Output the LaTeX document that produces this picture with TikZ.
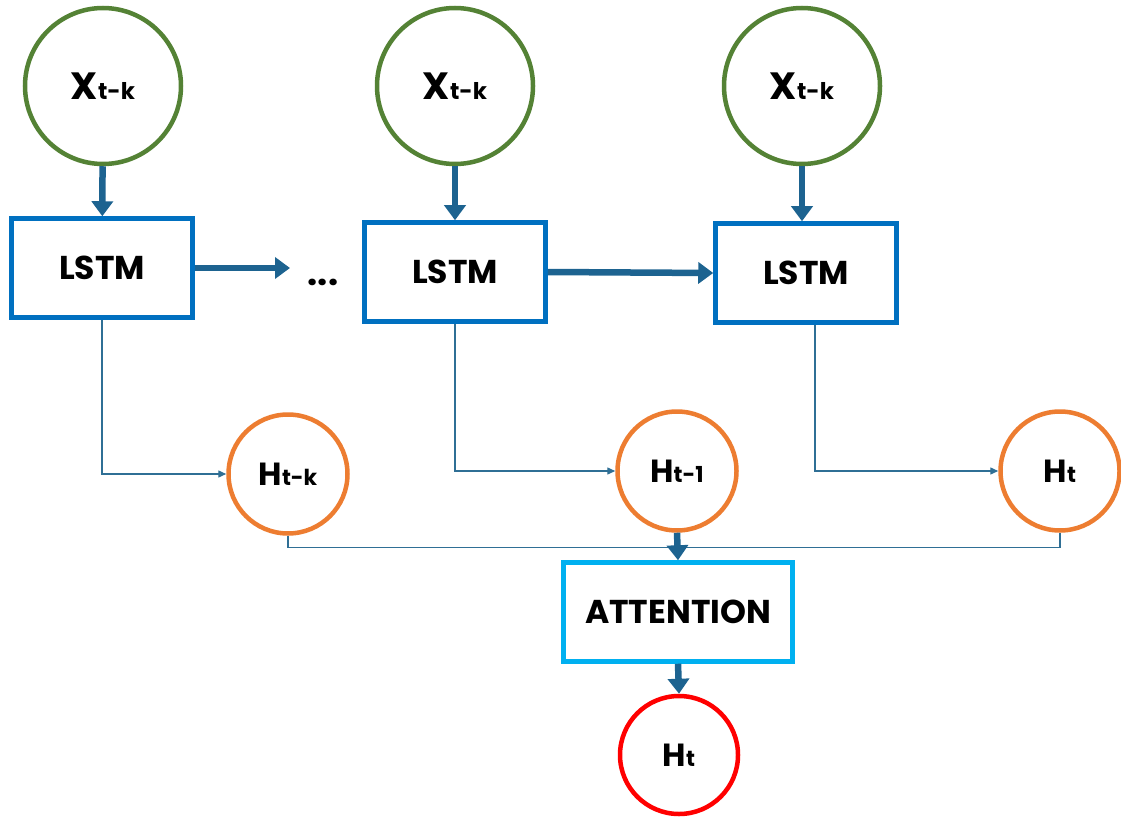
\documentclass[tikz,border=0pt]{standalone}
\usepackage{fontspec}
\setmainfont{Poppins}
\usetikzlibrary{arrows.meta}
\definecolor{cgreen}{HTML}{548235}
\definecolor{cblue}{HTML}{0070C0}
\definecolor{corange}{HTML}{ED7D31}
\definecolor{clight}{HTML}{00B0F0}
\definecolor{cred}{HTML}{FF0000}
\definecolor{carrow}{HTML}{1D6390}
\definecolor{cthin}{HTML}{2F6F95}
\newcommand{\bigX}[1]{\bfseries{\fontsize{38}{38}\selectfont X}{\fontsize{23}{23}\selectfont #1}}
\newcommand{\bigH}[1]{\bfseries{\fontsize{32}{32}\selectfont H}{\fontsize{22}{22}\selectfont #1}}
\tikzset{
  xcirc/.style={circle, draw=cgreen, line width=4.5pt, minimum size=156pt, inner sep=0pt},
  hcirc/.style={circle, draw=corange, line width=4.5pt, minimum size=119pt, inner sep=0pt},
  ocirc/.style={circle, draw=cred, line width=4.5pt, minimum size=118pt, inner sep=0pt},
  lstmbox/.style={draw=cblue, line width=4.5pt, minimum width=181pt, minimum height=99pt, inner sep=0pt, font=\bfseries\fontsize{33}{33}\selectfont},
  attbox/.style={draw=clight, line width=4.5pt, minimum width=229pt, minimum height=99pt, inner sep=0pt, font=\bfseries\fontsize{33}{33}\selectfont},
  bigarrow/.style={draw=carrow, line width=6.5pt, -{Triangle[width=21pt,length=15pt]}},
  thinarrow/.style={draw=cthin, line width=1.4pt, -{Triangle[width=7pt,length=8pt]}},
  thinline/.style={draw=cthin, line width=1.4pt},
}
\begin{document}
\begin{tikzpicture}[x=1pt,y=-1pt]
\useasboundingbox (0,0) rectangle (1121,818);
% inputs
\node[xcirc] (x1) at (103,86) {\bigX{t-k}};
\node[xcirc] (x2) at (455,86) {\bigX{t-k}};
\node[xcirc] (x3) at (802,86) {\bigX{t-k}};
% LSTMs
\node[lstmbox] (l1) at (102,268) {LSTM};
\node[lstmbox] (l2) at (455,272) {LSTM};
\node[lstmbox] (l3) at (806,273) {LSTM};
\node[font=\bfseries\fontsize{36}{36}\selectfont] (dots) at (323,282) {...};
\coordinate (dend) at (290,268);
% hidden states
\node[hcirc] (h1) at (288,474) {\bigH{t-k}};
\node[hcirc] (h2) at (677,471) {\bigH{t-1}};
\node[hcirc] (h3) at (1060,471) {\bigH{t}};
% attention
\node[attbox] (att) at (678,612) {ATTENTION};
\node[ocirc] (out) at (679,755) {\bigH{t}};
% arrows
\draw[bigarrow] (x1) -- (l1);
\draw[bigarrow] (x2) -- (l2);
\draw[bigarrow] (x3.south) -- (x3.south |- l3.north);
\draw[bigarrow] (l1.east) -- (dend);
\draw[bigarrow] (l2.east) -- (l3.west);
\draw[thinarrow] (l1.south) |- (h1.west);
\draw[thinarrow] (l2.south) |- (h2.west);
\draw[thinarrow] ([xshift=9pt]l3.south) |- (h3.west);
\draw[thinline] (h1.south) -- ++(0,12) -| (h3.south);
\draw[bigarrow] (h2.south) -- (att.north);
\draw[bigarrow] (att.south) -- (out.north);
\end{tikzpicture}
\end{document}
